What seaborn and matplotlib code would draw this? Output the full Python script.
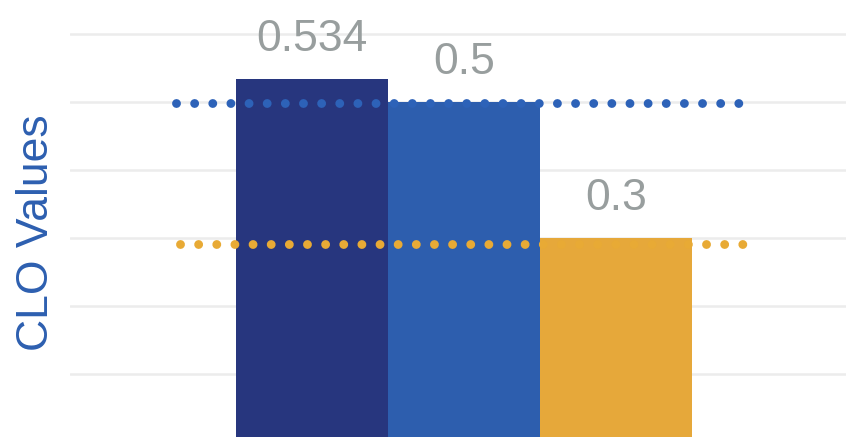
import matplotlib
matplotlib.use("Agg")
import matplotlib.pyplot as plt
import seaborn as sns
import pandas as pd

# ---- data ----
categories = ["CLO A", "CLO B", "CLO C"]
values = [0.534, 0.5, 0.3]
value_labels = ["0.534", "0.5", "0.3"]
bar_colors = ["#27367e", "#2d5eae", "#e6a83a"]
ref_levels = [0.498, 0.291]
ref_colors = ["#2d62b8", "#e8aa35"]
ref_spans = [(-0.895, 2.81), (-0.868, 2.836)]
grid_ticks = [0.1, 0.2, 0.3, 0.4, 0.5, 0.6]

sns.set_theme(style="white")
plt.rcParams["font.family"] = ["Liberation Sans", "DejaVu Sans"]

fig = plt.figure(figsize=(8.46, 4.37), dpi=100)
ax = fig.add_axes([70 / 846, 0, 1 - 70 / 846, 1])

df = pd.DataFrame({"cat": categories, "val": values})
sns.barplot(data=df, x="cat", y="val", hue="cat", palette=bar_colors,
            width=1.0, legend=False, ax=ax, saturation=1, linewidth=0,
            zorder=2)

# gridlines
for t in grid_ticks:
    ax.axhline(t, color="#ececec", lw=1.8, zorder=0)

# reference dotted lines
lw_pt = 6.4
gap_px = 18.13
gap = gap_px / (lw_pt * 100 / 72)
for lvl, col, (x0, x1) in zip(ref_levels, ref_colors, ref_spans):
    ax.plot([x0, x1], [lvl, lvl], color=col, lw=lw_pt,
            linestyle=(0, (0.001, gap)), dash_capstyle="round", zorder=3)

# value labels
for i, (v, lab) in enumerate(zip(values, value_labels)):
    ax.annotate(lab, (i, v), xytext=(0, 13.5), textcoords="offset points",
                ha="center", va="bottom", fontsize=32, color="#989e9e")

ax.set_xlim(-1.592, 3.513)
ax.set_ylim(0.0074, 0.65)
ax.set_xticks([])
ax.set_yticks([])
ax.set_xlabel("")
ax.set_ylabel("")
for s in ax.spines.values():
    s.set_visible(False)

fig.text(37 / 846, 1 - 232.5 / 437, "CLO Values", rotation=90,
         ha="center", va="center", fontsize=32, color="#2d5fb0")

fig.savefig("out.png", dpi=100)
